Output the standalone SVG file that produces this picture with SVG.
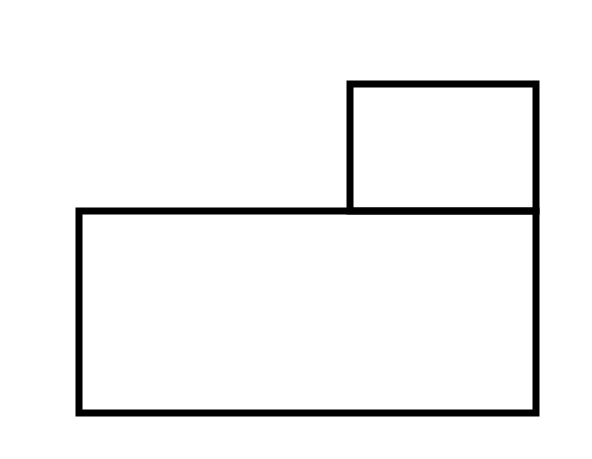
<svg xmlns="http://www.w3.org/2000/svg" width="592" height="459" viewBox="0 0 592 459">
<style>.b{fill:none;stroke:#000;stroke-width:7;stroke-linejoin:miter}</style>
<rect width="592" height="459" fill="#fff"/>
<g id="top-box"><rect class="b" x="350" y="84" width="186" height="127"/></g>
<g id="base-box"><rect class="b" x="79" y="211" width="457" height="202"/></g>
</svg>
